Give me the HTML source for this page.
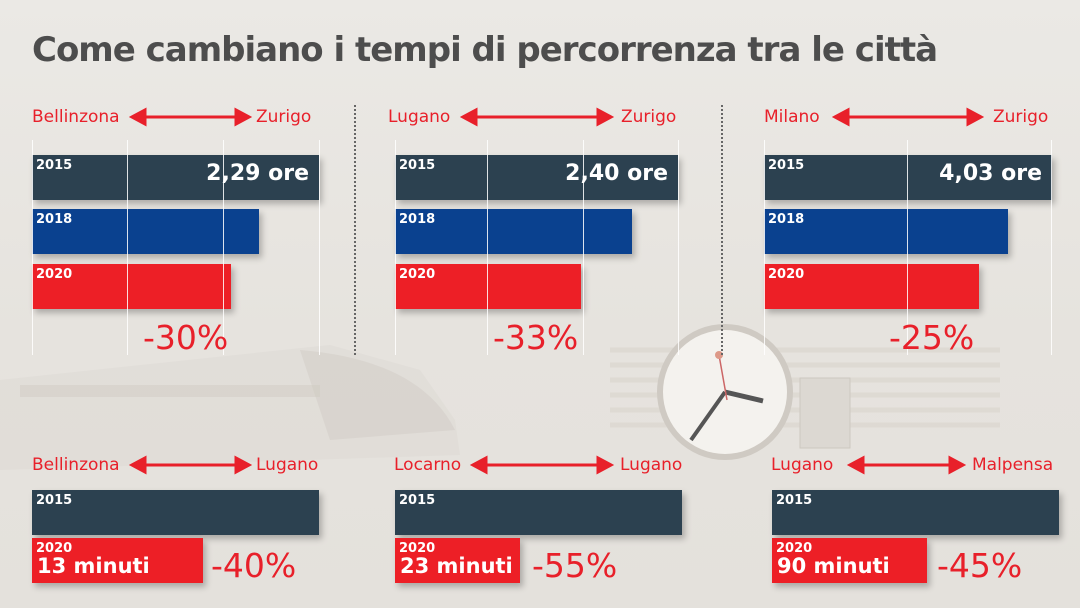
<!DOCTYPE html>
<html><head><meta charset="utf-8"><style>
*{margin:0;padding:0;box-sizing:border-box}
body{width:1080px;height:608px;overflow:hidden;position:relative;font-family:"DejaVu Sans","Liberation Sans",sans-serif;background:linear-gradient(180deg,#ebe9e5 0%,#e6e3de 55%,#e4e1dc 100%)}
.a{position:absolute}
.t{left:32px;top:30px;font-size:34px;font-weight:bold;color:#4d4d4d;letter-spacing:-1px;white-space:nowrap}
.lbl{position:absolute;color:#e8202a;font-size:17px;line-height:20px;white-space:nowrap}
.bar{position:absolute;box-shadow:3px 4px 6px rgba(0,0,0,.25);white-space:nowrap}
.y{position:absolute;left:4px;top:3px;color:#fff;font-size:13px;font-weight:bold}
.big{position:absolute;right:10px;top:6px;color:#fff;font-size:22px;font-weight:bold}
.g{position:absolute;width:1px;background:rgba(255,255,255,.85);top:140px;height:215px}
.pct{position:absolute;color:#e8202a;font-size:33px;line-height:36px}
.dk{background:#2c4150}.bl{background:#0a418f}.rd{background:#ed1f26}
.dot{position:absolute;top:105px;height:250px;border-left:2px dotted #666}
.mn{position:absolute;left:5px;top:16px;color:#fff;font-size:21px;font-weight:bold;white-space:nowrap}
</style></head><body>
<svg class="a" style="left:0;top:0" width="1080" height="608">
<path d="M0 380 L330 345 L420 370 L455 420 L460 455 L0 470 Z" fill="#dcd8d2" opacity=".45"/>
<path d="M300 350 Q420 360 455 430 L330 440 Z" fill="#d2ccc5" opacity=".5"/>
<rect x="20" y="385" width="300" height="12" fill="#cdc7bf" opacity=".4"/>
<g stroke="#d8d2ca" stroke-width="5" opacity=".5"><line x1="610" y1="350" x2="1000" y2="350"/><line x1="610" y1="365" x2="1000" y2="365"/><line x1="610" y1="380" x2="1000" y2="380"/><line x1="610" y1="395" x2="1000" y2="395"/><line x1="610" y1="410" x2="1000" y2="410"/><line x1="610" y1="425" x2="1000" y2="425"/></g>
<rect x="800" y="378" width="50" height="70" fill="#dcd8d2" stroke="#cdc8c0"/>
<circle cx="725" cy="392" r="68" fill="#cfcac3"/>
<circle cx="725" cy="392" r="62" fill="#f4f2ee"/>
<line x1="725" y1="392" x2="763" y2="401" stroke="#555" stroke-width="5"/>
<line x1="725" y1="392" x2="691" y2="440" stroke="#555" stroke-width="4"/>
<line x1="719" y1="355" x2="727" y2="400" stroke="#c66" stroke-width="1.5"/>
<circle cx="719" cy="355" r="4" fill="#d98"/>
</svg>
<div class="a t">Come cambiano i tempi di percorrenza tra le città</div>

<div class="dot" style="left:354px"></div><div class="dot" style="left:721px"></div>

<svg class="a" style="left:0;top:0" width="1080" height="608">
<g stroke="#e8202a" stroke-width="3" fill="#e8202a">
<line x1="140" y1="117" x2="241" y2="117"/><polygon points="132,117 145,110 145,124"/><polygon points="249,117 236,110 236,124"/>
<line x1="471" y1="117" x2="603" y2="117"/><polygon points="463,117 476,110 476,124"/><polygon points="611,117 598,110 598,124"/>
<line x1="843" y1="117" x2="973" y2="117"/><polygon points="835,117 848,110 848,124"/><polygon points="981,117 968,110 968,124"/>
<line x1="140" y1="465" x2="241" y2="465"/><polygon points="132,465 145,458 145,472"/><polygon points="249,465 236,458 236,472"/>
<line x1="481" y1="465" x2="603" y2="465"/><polygon points="473,465 486,458 486,472"/><polygon points="611,465 598,458 598,472"/>
<line x1="858" y1="465" x2="955" y2="465"/><polygon points="850,465 863,458 863,472"/><polygon points="963,465 950,458 950,472"/>
</g></svg>
<div class="lbl" style="left:32px;top:107px">Bellinzona</div><div class="lbl" style="left:256px;top:107px">Zurigo</div>
<div class="lbl" style="left:388px;top:107px">Lugano</div><div class="lbl" style="left:621px;top:107px">Zurigo</div>
<div class="lbl" style="left:764px;top:107px">Milano</div><div class="lbl" style="left:993px;top:107px">Zurigo</div>
<div class="lbl" style="left:32px;top:455px">Bellinzona</div><div class="lbl" style="left:256px;top:455px">Lugano</div>
<div class="lbl" style="left:394px;top:455px">Locarno</div><div class="lbl" style="left:620px;top:455px">Lugano</div>
<div class="lbl" style="left:771px;top:455px">Lugano</div><div class="lbl" style="left:972px;top:455px">Malpensa</div>

<div class="bar dk" style="left:32px;top:155px;width:287px;height:45px"><span class="y">2015</span><span class="big">2,29 ore</span></div>
<div class="bar bl" style="left:32px;top:209px;width:227px;height:45px"><span class="y">2018</span></div>
<div class="bar rd" style="left:32px;top:264px;width:199px;height:45px"><span class="y">2020</span></div>
<div class="bar dk" style="left:395px;top:155px;width:283px;height:45px"><span class="y">2015</span><span class="big">2,40 ore</span></div>
<div class="bar bl" style="left:395px;top:209px;width:237px;height:45px"><span class="y">2018</span></div>
<div class="bar rd" style="left:395px;top:264px;width:186px;height:45px"><span class="y">2020</span></div>
<div class="bar dk" style="left:764px;top:155px;width:288px;height:45px"><span class="y">2015</span><span class="big">4,03 ore</span></div>
<div class="bar bl" style="left:764px;top:209px;width:244px;height:45px"><span class="y">2018</span></div>
<div class="bar rd" style="left:764px;top:264px;width:215px;height:45px"><span class="y">2020</span></div>

<div class="g" style="left:32px"></div><div class="g" style="left:127px"></div><div class="g" style="left:223px"></div><div class="g" style="left:319px"></div>
<div class="g" style="left:395px"></div><div class="g" style="left:487px"></div><div class="g" style="left:583px"></div><div class="g" style="left:678px"></div>
<div class="g" style="left:764px"></div><div class="g" style="left:907px"></div><div class="g" style="left:1051px"></div>

<div class="pct" style="left:143px;top:320px">-30%</div>
<div class="pct" style="left:493px;top:320px">-33%</div>
<div class="pct" style="left:889px;top:320px">-25%</div>

<div class="bar dk" style="left:32px;top:490px;width:287px;height:45px"><span class="y">2015</span></div>
<div class="bar rd" style="left:32px;top:538px;width:171px;height:45px"><span class="y">2020</span><span class="mn">13 minuti</span></div>
<div class="pct" style="left:211px;top:548px">-40%</div>
<div class="bar dk" style="left:395px;top:490px;width:287px;height:45px"><span class="y">2015</span></div>
<div class="bar rd" style="left:395px;top:538px;width:125px;height:45px"><span class="y">2020</span><span class="mn">23 minuti</span></div>
<div class="pct" style="left:532px;top:548px">-55%</div>
<div class="bar dk" style="left:772px;top:490px;width:287px;height:45px"><span class="y">2015</span></div>
<div class="bar rd" style="left:772px;top:538px;width:155px;height:45px"><span class="y">2020</span><span class="mn">90 minuti</span></div>
<div class="pct" style="left:937px;top:548px">-45%</div>
</body></html>
